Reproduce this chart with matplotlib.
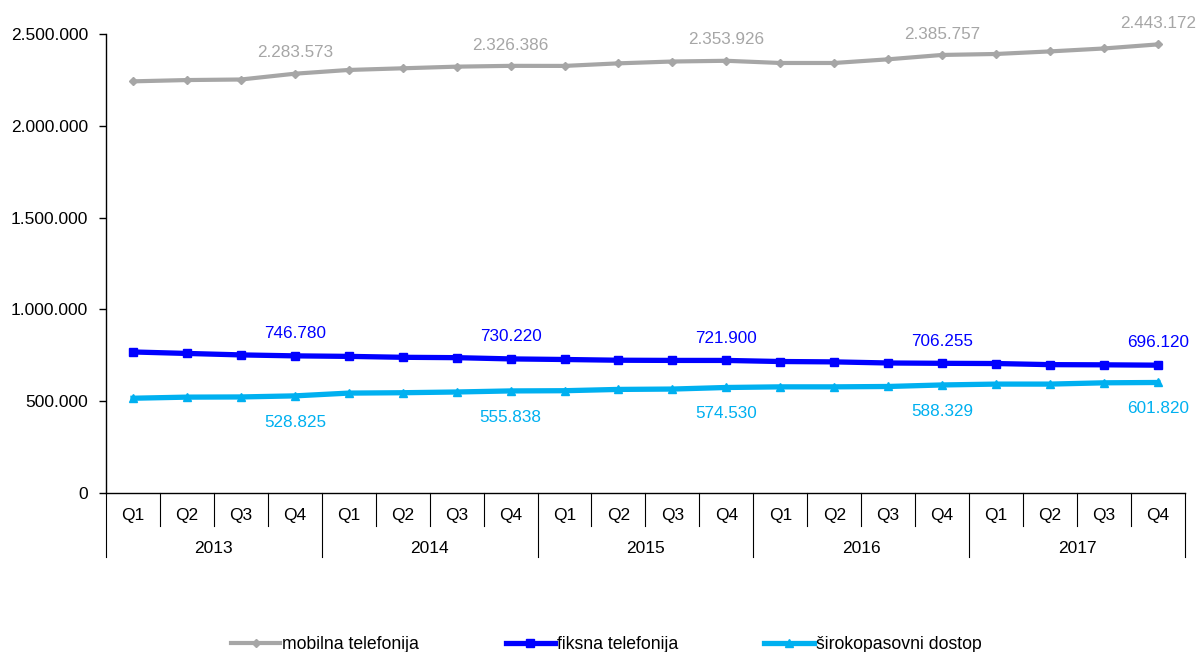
import numpy as np
import matplotlib.pyplot as plt
from matplotlib.lines import Line2D

plt.rcParams['font.family'] = ['Liberation Sans', 'DejaVu Sans']
plt.rcParams['font.size'] = 12.5

years = ["2013", "2014", "2015", "2016", "2017"]
quarters = ["Q1", "Q2", "Q3", "Q4"]

mobilna = [2242000, 2249000, 2252000, 2283573,
           2304000, 2313000, 2322000, 2326386,
           2326000, 2340000, 2350000, 2353926,
           2342000, 2342000, 2362000, 2385757,
           2391000, 2405000, 2421000, 2443172]
fiksna = [768000, 760000, 752000, 746780,
          744000, 739000, 737000, 730220,
          727000, 723000, 722000, 721900,
          716000, 714000, 708000, 706255,
          705000, 699000, 698000, 696120]
sirokopasovni = [516000, 522000, 523000, 528825,
                 544000, 546000, 550000, 555838,
                 557000, 564000, 566000, 574530,
                 578000, 578000, 580000, 588329,
                 593000, 593000, 600000, 601820]

names = ["mobilna telefonija", "fiksna telefonija", "širokopasovni dostop"]
c_mob = "#A6A6A6"
c_fix = "#0000FF"
c_sir = "#00B0F0"


def fmt(v):
    return f"{v:,.0f}".replace(",", ".")


fig = plt.figure(figsize=(11.98, 6.52), dpi=100)
ax = fig.add_axes([0.0885, 0.2439, 0.9005, 0.704])

x = np.arange(len(mobilna))
ax.plot(x, mobilna, color=c_mob, lw=3.0, marker="D", ms=4, zorder=3)
ax.plot(x, fiksna, color=c_fix, lw=3.8, marker="s", ms=6, zorder=3)
ax.plot(x, sirokopasovni, color=c_sir, lw=3.8, marker="^", ms=6, zorder=3)

# labels on Q4 points
for i in range(3, len(x), 4):
    ax.annotate(fmt(mobilna[i]), (x[i], mobilna[i]), xytext=(0, 15),
                textcoords="offset points", ha="center", va="center",
                color=c_mob, fontsize=12.3, annotation_clip=False)
    ax.annotate(fmt(fiksna[i]), (x[i], fiksna[i]), xytext=(0, 16),
                textcoords="offset points", ha="center", va="center",
                color=c_fix, fontsize=12.3, annotation_clip=False)
    ax.annotate(fmt(sirokopasovni[i]), (x[i], sirokopasovni[i]), xytext=(0, -19),
                textcoords="offset points", ha="center", va="center",
                color=c_sir, fontsize=12.3, annotation_clip=False)

ax.set_xlim(-0.5, len(x) - 0.5)
ax.set_ylim(0, 2500000)
ax.set_yticks(np.arange(0, 2500001, 500000))
ax.set_yticklabels([fmt(v) for v in np.arange(0, 2500001, 500000)])
ax.tick_params(axis="y", direction="out", length=5, width=1, pad=8)
ax.set_xticks([])
for s in ["top", "right"]:
    ax.spines[s].set_visible(False)
ax.spines["left"].set_linewidth(1)
ax.spines["bottom"].set_linewidth(1)

# two-level category axis
trans = ax.get_xaxis_transform()
for k in range(len(x) + 1):
    xb = k - 0.5
    ybot = -0.139 if k % 4 == 0 else -0.072
    ax.plot([xb, xb], [0, ybot], transform=trans, color="black", lw=0.8, clip_on=False)
for i in x:
    ax.text(i, -0.05, quarters[i % 4], transform=trans, ha="center", va="center")
for j, yr in enumerate(years):
    ax.text(j * 4 + 1.5, -0.12, yr, transform=trans, ha="center", va="center")

handles = [Line2D([], [], color=c_mob, lw=3.0, marker="D", ms=4),
           Line2D([], [], color=c_fix, lw=3.8, marker="s", ms=6),
           Line2D([], [], color=c_sir, lw=3.8, marker="^", ms=6)]
fig.legend(handles, names, loc="center", bbox_to_anchor=(0.506, 0.012), ncol=3,
           frameon=False, handlelength=2.8, handletextpad=0.1, columnspacing=4.9,
           fontsize=12.7)

fig.savefig("out.png", dpi=100)
